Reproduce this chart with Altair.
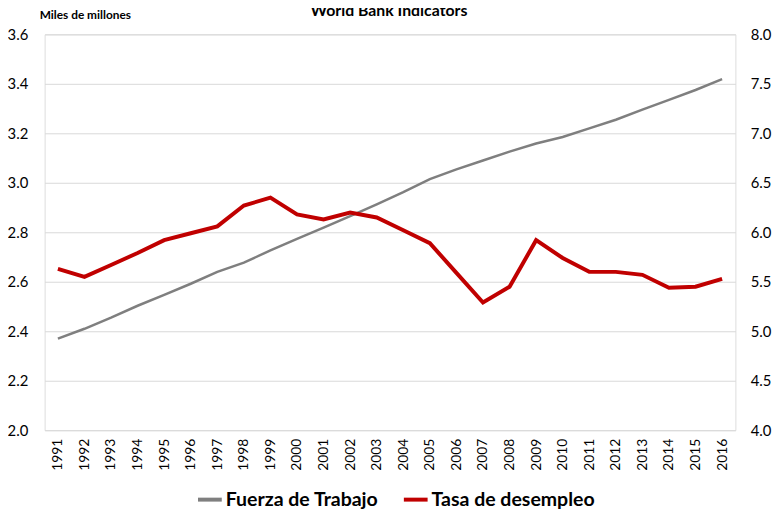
import altair as alt
import pandas as pd

years = [str(y) for y in range(1991, 2017)]
fuerza = [2.370, 2.410, 2.455, 2.503, 2.547, 2.592, 2.640, 2.677, 2.727, 2.773,
          2.819, 2.865, 2.913, 2.962, 3.015, 3.054, 3.090, 3.126, 3.159, 3.185,
          3.220, 3.255, 3.296, 3.335, 3.375, 3.419]
desempleo = [5.63, 5.55, 5.67, 5.79, 5.92, 5.99, 6.06, 6.27, 6.35, 6.18,
             6.13, 6.20, 6.15, 6.02, 5.89, 5.59, 5.29, 5.45, 5.92, 5.74,
             5.60, 5.60, 5.57, 5.44, 5.45, 5.53]
series = ["Fuerza de Trabajo", "Tasa de desempleo"]
colors = ["#7f7f7f", "#c00000"]
left_ticks = [2.0, 2.2, 2.4, 2.6, 2.8, 3.0, 3.2, 3.4, 3.6]
right_ticks = [4.0, 4.5, 5.0, 5.5, 6.0, 6.5, 7.0, 7.5, 8.0]
title_text = "World Bank Indicators"
unit_text = "Miles de millones"

df = pd.DataFrame({
    "anio": years * 2,
    "serie": [series[0]] * len(years) + [series[1]] * len(years),
    "valor": fuerza + desempleo,
})

FONT = "Lato"

x_enc = alt.X("anio:O", sort=years,
              scale=alt.Scale(type="point", padding=0.5),
              axis=alt.Axis(title=None, labelAngle=270, labelPadding=8, ticks=False,
                            domain=False, grid=False, labelFontSize=14,
                            labelColor="#000000", labelFont=FONT))
color_enc = alt.Color("serie:N",
                      scale=alt.Scale(domain=series, range=colors),
                      legend=alt.Legend(title=None, orient="none", legendX=153, legendY=456,
                                        direction="horizontal", symbolType="stroke",
                                        symbolStrokeWidth=4, symbolSize=576,
                                        labelFontSize=19.7, labelFontWeight="bold",
                                        labelFont=FONT, labelColor="#000000",
                                        labelLimit=400,
                                        columnPadding=17, labelOffset=2))

base = alt.Chart(df)

gray = base.transform_filter(alt.datum.serie == series[0]).mark_line(strokeWidth=2.5).encode(
    x=x_enc,
    y=alt.Y("valor:Q", scale=alt.Scale(domain=[2.0, 3.6], nice=False, zero=False),
            axis=alt.Axis(title=None, values=left_ticks, format=".1f", labelPadding=17,
                          ticks=False, domain=False, grid=True, gridColor="#d9d9d9",
                          gridWidth=1, labelFontSize=15, labelColor="#000000",
                          labelFont=FONT)),
    color=color_enc,
)

red = base.transform_filter(alt.datum.serie == series[1]).mark_line(strokeWidth=4).encode(
    x=x_enc,
    y=alt.Y("valor:Q", scale=alt.Scale(domain=[4.0, 8.0], nice=False, zero=False),
            axis=alt.Axis(title=None, orient="right", values=right_ticks, format=".1f",
                          labelPadding=15, ticks=False, domain=False, grid=False,
                          labelFontSize=15, labelColor="#000000", labelFont=FONT)),
    color=color_enc,
)

title_layer = alt.Chart(pd.DataFrame({"t": [title_text]})).mark_text(
    font=FONT, fontSize=16, fontWeight="bold", color="#000000",
    align="center", baseline="alphabetic"
).encode(text="t:N", x=alt.value(348), y=alt.value(-19))

unit_layer = alt.Chart(pd.DataFrame({"t": [unit_text]})).mark_text(
    font=FONT, fontSize=12, fontWeight="bold", color="#000000",
    align="left", baseline="middle"
).encode(text="t:N", x=alt.value(-5), y=alt.value(-20))

chart = alt.layer(gray, red, title_layer, unit_layer).resolve_scale(
    y="independent"
).properties(
    width=698, height=400,
    autosize=alt.AutoSizeParams(type="none"),
    padding={"left": 37, "top": 24, "right": 37, "bottom": 78},
).configure_view(stroke=None).configure(font=FONT)

chart.save("out.html", embed_options={"renderer": "svg", "actions": False})
